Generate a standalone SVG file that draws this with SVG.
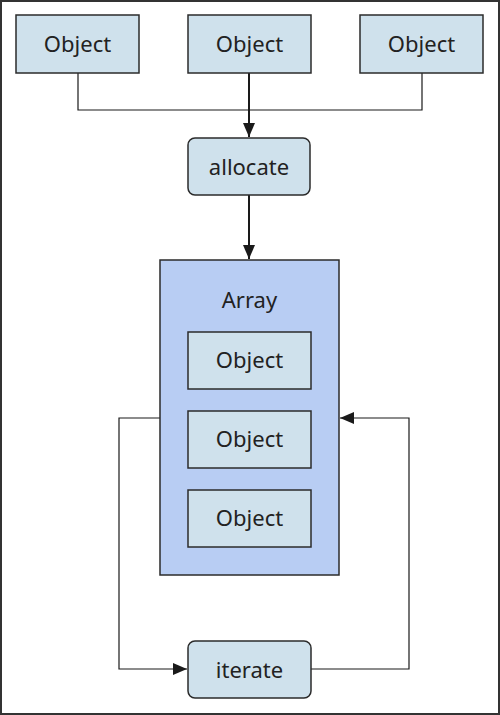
<svg xmlns="http://www.w3.org/2000/svg" width="500" height="715" viewBox="0 0 500 715">
<defs>
<marker id="ah2" viewBox="0 0 14 12" refX="14" refY="6" markerWidth="14" markerHeight="12" markerUnits="userSpaceOnUse" orient="auto"><path d="M0,0 L14,6 L0,12 z" fill="#1a1a1a"/></marker>
</defs>
<style>
.box{fill:#cfe1ec;stroke:#2b2b2b;stroke-width:1.5}
.arr{fill:#b8cdf3;stroke:#2b2b2b;stroke-width:1.5}
.t{font-family:"Noto Sans","DejaVu Sans",sans-serif;font-size:22px;fill:#222;text-anchor:middle;dominant-baseline:central}
.c{fill:none;stroke:#1a1a1a;stroke-width:1.2}
.c2{fill:none;stroke:#1a1a1a;stroke-width:2}
</style>
<rect x="1" y="1" width="498" height="713" fill="#fff" stroke="#333" stroke-width="2"/>
<g id="connectors">
<polyline class="c" points="78,73 78,110 422,110 422,73"/>
<line class="c2" x1="249" y1="73" x2="249" y2="137" marker-end="url(#ah2)"/>
<line class="c2" x1="249" y1="195" x2="249" y2="259" marker-end="url(#ah2)"/>
<polyline class="c" points="160,418 119,418 119,669 187,669" marker-end="url(#ah2)"/>
<polyline class="c" points="311,669 409,669 409,418 340,418" marker-end="url(#ah2)"/>
</g>
<g id="obj1"><rect class="box" x="16" y="15" width="123" height="58"/><text class="t" x="77.5" y="43">Object</text></g>
<g id="obj2"><rect class="box" x="188" y="15" width="123" height="58"/><text class="t" x="249.5" y="43">Object</text></g>
<g id="obj3"><rect class="box" x="360" y="15" width="123" height="58"/><text class="t" x="421.5" y="43">Object</text></g>
<g id="allocate"><rect class="box" x="188" y="138" width="122" height="57" rx="7"/><text class="t" x="249" y="166">allocate</text></g>
<g id="array"><rect class="arr" x="160" y="260" width="179" height="315"/><text class="t" x="249.5" y="299">Array</text>
<g id="aobj1"><rect class="box" x="188" y="332" width="123" height="57"/><text class="t" x="249.5" y="359">Object</text></g>
<g id="aobj2"><rect class="box" x="188" y="411" width="123" height="57"/><text class="t" x="249.5" y="438">Object</text></g>
<g id="aobj3"><rect class="box" x="188" y="490" width="123" height="57"/><text class="t" x="249.5" y="517">Object</text></g>
</g>
<g id="iterate"><rect class="box" x="188" y="641" width="123" height="57" rx="7"/><text class="t" x="249.5" y="669">iterate</text></g>
</svg>
